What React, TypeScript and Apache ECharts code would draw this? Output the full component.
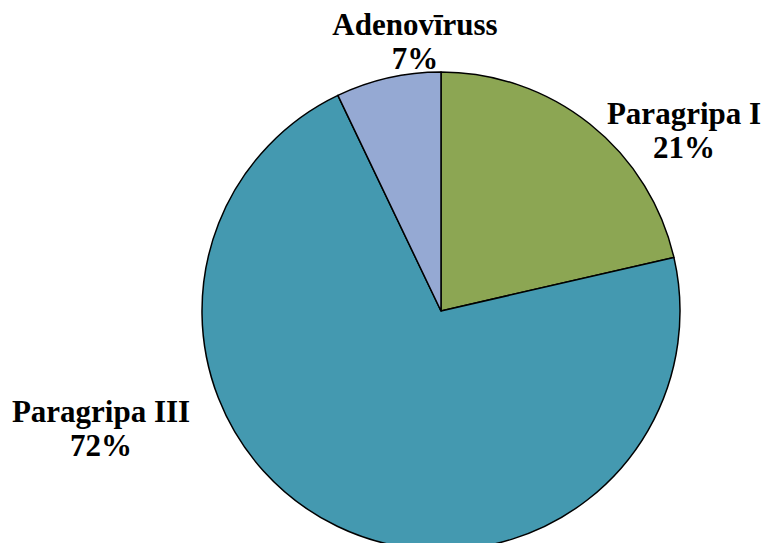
import React, { useEffect, useRef } from "react";
import * as echarts from "echarts";

const categories = ["Paragripa I", "Paragripa III", "Adenovīruss"];
const values = [21.4, 71.5, 7.1];
const colors = ["#8CA653", "#4499B0", "#95A9D3"];
// label block centres (layout, not data)
const labelPos = [
  [684, 130],
  [101, 428],
  [415, 41],
];

export default function App() {
  const ref = useRef<HTMLDivElement>(null);
  useEffect(() => {
    document.body.style.margin = "0";
    const chart = echarts.init(ref.current!, null, { renderer: "svg" });
    chart.setOption({
      animation: false,
      backgroundColor: "#ffffff",
      series: [
        {
          type: "pie",
          center: [441, 311],
          radius: [0, 239],
          startAngle: 90,
          clockwise: true,
          percentPrecision: 0,
          data: categories.map((c, i) => ({
            name: c,
            value: values[i],
            itemStyle: { color: colors[i] },
          })),
          itemStyle: { borderColor: "#000", borderWidth: 1.5 },
          label: {
            show: true,
            formatter: "{b}\n{d}%",
            fontFamily: "Liberation Serif",
            fontWeight: "bold",
            fontSize: 31,
            lineHeight: 34,
            color: "#000",
            align: "center",
            overflow: "none",
            width: 300,
          },
          labelLine: { show: false },
          labelLayout: (p: any) => ({
            x: labelPos[p.dataIndex][0],
            y: labelPos[p.dataIndex][1],
            align: "center",
            verticalAlign: "middle",
          }),
          emphasis: { disabled: true },
        },
      ],
    });
    return () => chart.dispose();
  }, []);
  return <div ref={ref} style={{ width: 762, height: 543 }} />;
}
